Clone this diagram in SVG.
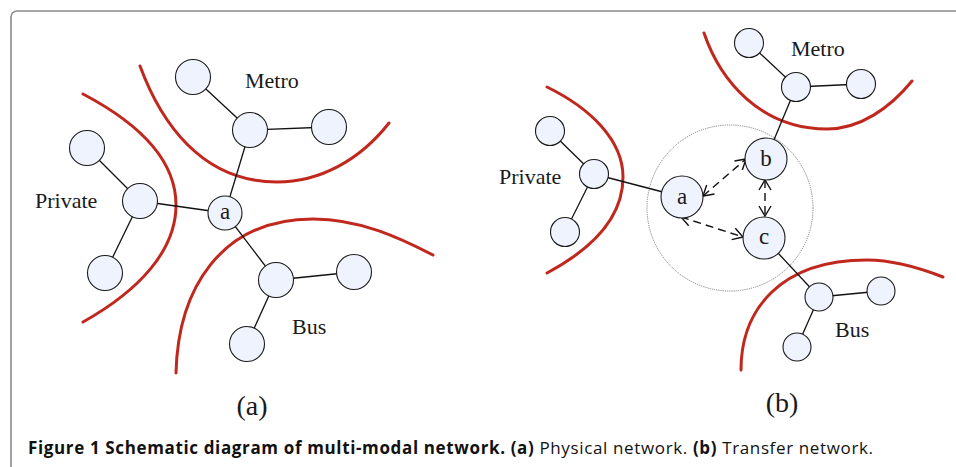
<svg xmlns="http://www.w3.org/2000/svg" width="956" height="467" viewBox="0 0 956 467">
  <style>
    .frame { fill: none; stroke: #8a8a8a; stroke-width: 1.6; }
    .zone { fill: none; stroke: #c0281e; stroke-width: 3; stroke-linecap: round; }
    .edge { stroke: #111; stroke-width: 1.3; fill: none; }
    .transfer { stroke: #111; stroke-width: 1.4; fill: none; stroke-dasharray: 8 5; marker-start: url(#tip); marker-end: url(#tip); }
    .hub { fill: none; stroke: #666; stroke-width: 0.8; stroke-dasharray: 1.2 1; }
    .node circle { fill: #eff3fd; stroke: #1a1a1a; stroke-width: 1.1; }
    .lbl { font-family: "Liberation Serif", "Times New Roman", serif; font-size: 22px; fill: #1a1a1a; }
    .nlbl { font-family: "Liberation Serif", "Times New Roman", serif; font-size: 23px; fill: #1a1a1a; text-anchor: middle; }
    .sub { font-family: "Liberation Serif", "Times New Roman", serif; font-size: 28px; fill: #1a1a1a; text-anchor: middle; }
    .cap { font-family: "Open Sans", "Noto Sans", sans-serif; font-size: 17px; fill: #111; }
    .b { font-weight: bold; }
  </style>
  <defs>
    <marker id="tip" viewBox="0 0 12 14" refX="11" refY="7" markerWidth="12" markerHeight="14" markerUnits="userSpaceOnUse" orient="auto-start-reverse">
      <path d="M1,1 L11,7 L1,13" fill="none" stroke="#111" stroke-width="1.4"/>
    </marker>
  </defs>

  <rect class="frame" x="11" y="11" width="1000" height="520" rx="6"/>

  <!-- mode boundaries -->
  <g id="zones">
    <path class="zone" d="M83,94 C140,124 176,160 176,205 C176,250 140,290 83,322"/>
    <path class="zone" d="M140,66 C160,120 200,182 277,182 C320,182 360,160 389,123"/>
    <path class="zone" d="M176,373 C178,290 220,219 313,219 C360,219 400,238 433,255"/>
    <path class="zone" d="M547,87 C590,108 623,140 623,177 C623,220 590,250 547,273"/>
    <path class="zone" d="M704,33 C720,80 760,129 827,129 C860,129 890,108 912,81"/>
    <path class="zone" d="M741,370 C741,310 780,260 867,260 C895,260 920,268 943,277"/>
  </g>

  <!-- transfer area around a, b, c -->
  <circle class="hub" cx="730" cy="208" r="83"/>

  <!-- connectors -->
  <g id="connectors">
    <line class="edge" x1="193" y1="77" x2="250" y2="130"/>
    <line class="edge" x1="250" y1="130" x2="329" y2="127"/>
    <line class="edge" x1="250" y1="130" x2="225" y2="213"/>
    <line class="edge" x1="87" y1="148" x2="140" y2="201"/>
    <line class="edge" x1="140" y1="201" x2="225" y2="213"/>
    <line class="edge" x1="140" y1="201" x2="105" y2="273"/>
    <line class="edge" x1="225" y1="213" x2="276" y2="280"/>
    <line class="edge" x1="276" y1="280" x2="354" y2="272"/>
    <line class="edge" x1="276" y1="280" x2="247" y2="344"/>

    <line class="edge" x1="749" y1="43" x2="796" y2="87"/>
    <line class="edge" x1="796" y1="87" x2="861" y2="84"/>
    <line class="edge" x1="796" y1="87" x2="766" y2="159"/>
    <line class="edge" x1="550" y1="131" x2="594" y2="174"/>
    <line class="edge" x1="594" y1="174" x2="565" y2="232"/>
    <line class="edge" x1="594" y1="174" x2="682" y2="197"/>
    <line class="edge" x1="764" y1="238" x2="819" y2="297"/>
    <line class="edge" x1="819" y1="297" x2="881" y2="291"/>
    <line class="edge" x1="819" y1="297" x2="797" y2="347"/>

    <line class="transfer" x1="703" y1="196" x2="746" y2="159"/>
    <line class="transfer" x1="765" y1="180" x2="765" y2="216"/>
    <line class="transfer" x1="681" y1="217" x2="743" y2="237"/>
  </g>

  <!-- physical network (a) -->
  <g id="a-metro-1" class="node"><circle cx="193" cy="77" r="17.5"/></g>
  <g id="a-metro-hub" class="node"><circle cx="250" cy="130" r="17.5"/></g>
  <g id="a-metro-2" class="node"><circle cx="329" cy="127" r="17.5"/></g>
  <g id="a-private-1" class="node"><circle cx="87" cy="148" r="17.5"/></g>
  <g id="a-private-hub" class="node"><circle cx="140" cy="201" r="17.5"/></g>
  <g id="a-private-2" class="node"><circle cx="105" cy="273" r="17.5"/></g>
  <g id="a-node" class="node"><circle cx="225" cy="213" r="17"/><text class="nlbl" x="225" y="219">a</text></g>
  <g id="a-bus-hub" class="node"><circle cx="276" cy="280" r="17.5"/></g>
  <g id="a-bus-1" class="node"><circle cx="354" cy="272" r="17.5"/></g>
  <g id="a-bus-2" class="node"><circle cx="247" cy="344" r="17.5"/></g>

  <text class="lbl" x="245" y="88">Metro</text>
  <text class="lbl" x="35" y="208">Private</text>
  <text class="lbl" x="292" y="334">Bus</text>
  <text class="sub" x="252" y="415">(a)</text>

  <!-- transfer network (b) -->
  <g id="b-metro-1" class="node"><circle cx="749" cy="43" r="14.5"/></g>
  <g id="b-metro-hub" class="node"><circle cx="796" cy="87" r="14.5"/></g>
  <g id="b-metro-2" class="node"><circle cx="861" cy="84" r="14.5"/></g>
  <g id="b-private-1" class="node"><circle cx="550" cy="131" r="14.5"/></g>
  <g id="b-private-hub" class="node"><circle cx="594" cy="174" r="14.5"/></g>
  <g id="b-private-2" class="node"><circle cx="565" cy="232" r="14.5"/></g>
  <g id="b-node-a" class="node"><circle cx="682" cy="197" r="21"/><text class="nlbl" x="682" y="204">a</text></g>
  <g id="b-node-b" class="node"><circle cx="766" cy="159" r="21"/><text class="nlbl" x="766" y="166">b</text></g>
  <g id="b-node-c" class="node"><circle cx="764" cy="238" r="21"/><text class="nlbl" x="764" y="244">c</text></g>
  <g id="b-bus-hub" class="node"><circle cx="819" cy="297" r="14"/></g>
  <g id="b-bus-1" class="node"><circle cx="881" cy="291" r="14"/></g>
  <g id="b-bus-2" class="node"><circle cx="797" cy="347" r="14"/></g>

  <text class="lbl" x="791" y="56">Metro</text>
  <text class="lbl" x="499" y="184">Private</text>
  <text class="lbl" x="835" y="337">Bus</text>
  <text class="sub" x="782" y="412">(b)</text>

  <text class="cap" x="28" y="454" textLength="845" lengthAdjust="spacing"><tspan class="b">Figure 1 Schematic diagram of multi-modal network. (a)</tspan> Physical network. <tspan class="b">(b)</tspan> Transfer network.</text>
</svg>
